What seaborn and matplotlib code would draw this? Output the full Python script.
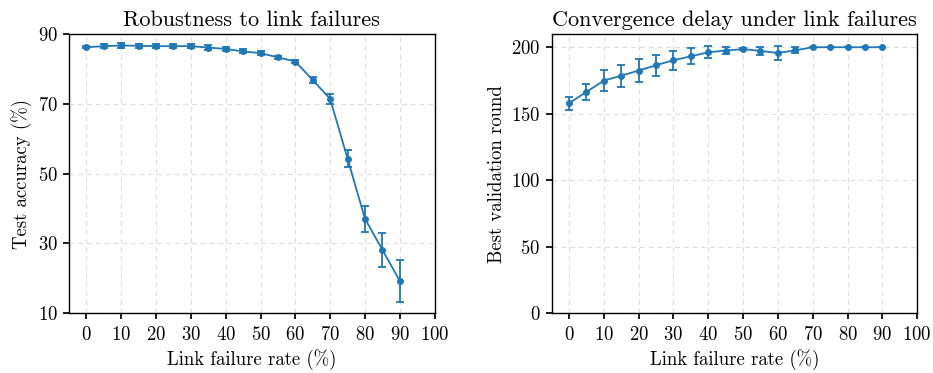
import matplotlib
matplotlib.use("Agg")
import matplotlib.pyplot as plt
import seaborn as sns
import pandas as pd

# Link failure rates (%) and measured results
failure_rate = [0, 5, 10, 15, 20, 25, 30, 35, 40, 45, 50, 55, 60, 65, 70, 75, 80, 85, 90]

acc_mean = [86.2, 86.5, 86.7, 86.6, 86.5, 86.5, 86.5, 86.1, 85.7, 85.0, 84.5, 83.3, 82.1,
            76.8, 71.4, 54.3, 37.1, 28.2, 19.3]
acc_std = [0.3, 0.5, 0.7, 0.6, 0.6, 0.6, 0.5, 0.6, 0.6, 0.6, 0.5, 0.4, 0.4,
           0.9, 1.5, 2.5, 3.7, 4.9, 6.0]

round_mean = [157.9, 166.4, 174.9, 178.6, 182.5, 186.5, 190.2, 193.2, 196.2, 197.5, 198.6,
              197.2, 195.7, 197.7, 200.0, 200.0, 200.0, 200.0, 200.0]
round_std = [5.0, 6.3, 7.8, 8.3, 8.3, 7.9, 7.3, 5.9, 4.6, 2.5, 0.8,
             2.8, 5.3, 2.3, 0.0, 0.0, 0.0, 0.0, 0.0]

x_ticks = [0, 10, 20, 30, 40, 50, 60, 70, 80, 90, 100]

sns.set_theme(style="white")
plt.rcParams.update({
    "font.family": ["cmr10"],
    "mathtext.fontset": "cm",
    "axes.formatter.use_mathtext": True,
    "axes.unicode_minus": False,
    "axes.edgecolor": "black",
    "axes.linewidth": 1.0,
    "xtick.bottom": True,
    "ytick.left": True,
    "xtick.direction": "out",
    "ytick.direction": "out",
    "xtick.major.size": 4,
    "ytick.major.size": 4,
    "xtick.major.pad": 5,
    "ytick.major.pad": 4,
    "xtick.color": "black",
    "ytick.color": "black",
    "xtick.labelsize": 13.5,
    "ytick.labelsize": 13.5,
    "axes.labelsize": 13.5,
    "axes.titlesize": 16,
    "text.color": "black",
    "axes.labelcolor": "black",
})

color = "#1f77b4"
df = pd.DataFrame({"rate": failure_rate, "acc": acc_mean, "acc_sd": acc_std,
                   "rnd": round_mean, "rnd_sd": round_std})

fig, axes = plt.subplots(1, 2, figsize=(9.33, 3.73), dpi=100)
fig.subplots_adjust(left=0.074, right=0.983, top=0.909, bottom=0.16, wspace=0.32)


def panel(ax, ycol, sdcol, title, ylabel, ylim, yticks):
    ax.errorbar(df["rate"], df[ycol], yerr=df[sdcol], fmt="none", ecolor=color,
                elinewidth=1.3, capsize=3, capthick=1.3, zorder=3)
    sns.lineplot(data=df, x="rate", y=ycol, ax=ax, color=color, marker="o",
                 markersize=5, markeredgewidth=0, linewidth=1.3, zorder=4)
    ax.set_xlim(-5, 100)
    ax.set_ylim(*ylim)
    ax.set_xticks(x_ticks)
    ax.set_yticks(yticks)
    ax.grid(True, linestyle=(0, (4, 3)), color="#d9d9d9", linewidth=0.9, alpha=0.8)
    ax.set_axisbelow(True)
    ax.set_title(title, pad=6)
    ax.set_xlabel("Link failure rate (%)", labelpad=4)
    ax.set_ylabel(ylabel, labelpad=4)
    for s in ax.spines.values():
        s.set_visible(True)
        s.set_color("black")


panel(axes[0], "acc", "acc_sd", "Robustness to link failures", "Test accuracy (%)",
      (10, 90), [10, 30, 50, 70, 90])
panel(axes[1], "rnd", "rnd_sd", "Convergence delay under link failures", "Best validation round",
      (0, 210), [0, 50, 100, 150, 200])

fig.savefig("out.png", dpi=100)
